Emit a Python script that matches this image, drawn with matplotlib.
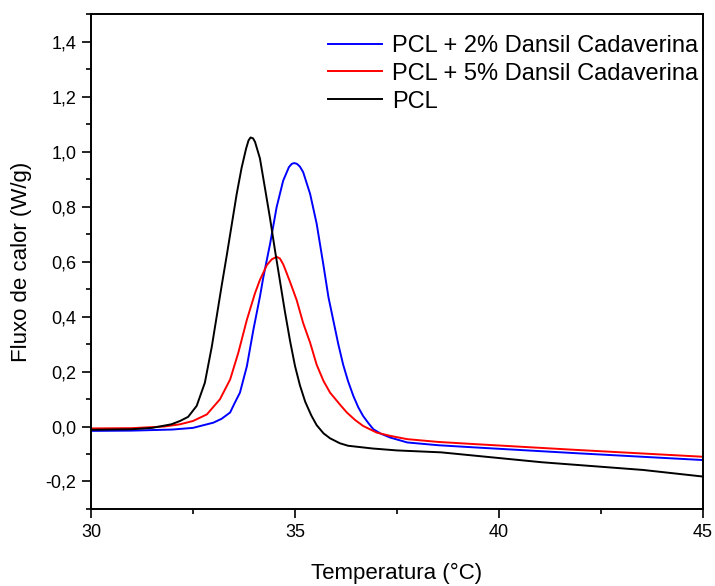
import matplotlib
matplotlib.use("Agg")
import matplotlib.pyplot as plt
from matplotlib.ticker import MultipleLocator, FixedLocator, FixedFormatter

plt.rcParams['font.family'] = ['Liberation Sans', 'DejaVu Sans']

# PCL (black)
t_pcl = [30.0, 31.0, 31.5, 31.97, 32.18, 32.38, 32.59, 32.79, 32.96, 33.08, 33.2,
         33.33, 33.45, 33.57, 33.69, 33.8, 33.86, 33.91, 33.97, 34.02, 34.14, 34.26,
         34.39, 34.51, 34.63, 34.75, 34.88, 35.0, 35.12, 35.25, 35.4, 35.53, 35.7,
         35.86, 36.1, 36.3, 36.9, 37.5, 38.58, 41.05, 43.53, 45.0]
q_pcl = [-0.012, -0.010, -0.005, 0.008, 0.020, 0.035, 0.075, 0.159, 0.29, 0.40, 0.51,
         0.625, 0.735, 0.845, 0.94, 1.01, 1.04, 1.051, 1.048, 1.035, 0.975, 0.87,
         0.755, 0.64, 0.53, 0.42, 0.31, 0.22, 0.15, 0.09, 0.04, 0.005, -0.025,
         -0.043, -0.061, -0.070, -0.080, -0.087, -0.094, -0.130, -0.158, -0.182]

# PCL + 2% Dansil Cadaverina (blue)
t_2 = [30.0, 31.0, 32.0, 32.5, 33.0, 33.2, 33.41, 33.52, 33.65, 33.82, 33.98, 34.14,
       34.22, 34.39, 34.55, 34.71, 34.85, 34.92, 34.98, 35.05, 35.12, 35.2, 35.37,
       35.53, 35.69, 35.82, 35.94, 36.06, 36.18, 36.3, 36.43, 36.55, 36.67, 36.8,
       36.92, 37.1, 37.33, 37.75, 38.5, 39.4, 41.88, 45.0]
q_2 = [-0.016, -0.015, -0.011, -0.005, 0.014, 0.028, 0.051, 0.085, 0.123, 0.219, 0.352, 0.472,
       0.54, 0.665, 0.798, 0.894, 0.943, 0.955, 0.958, 0.955, 0.945, 0.925, 0.846,
       0.738, 0.593, 0.47, 0.385, 0.30, 0.225, 0.165, 0.111, 0.07, 0.038, 0.012,
       -0.010, -0.026, -0.040, -0.058, -0.068, -0.076, -0.097, -0.122]

# PCL + 5% Dansil Cadaverina (red)
t_5 = [30.0, 31.0, 31.8, 32.18, 32.5, 32.84, 33.16, 33.41, 33.61, 33.82, 34.02,
       34.14, 34.31, 34.43, 34.55, 34.63, 34.71, 34.79, 34.88, 35.04, 35.2, 35.37,
       35.53, 35.7, 35.86, 36.1, 36.27, 36.47, 36.67, 37.0, 37.33, 37.75, 38.5,
       39.4, 41.88, 45.0]
q_5 = [-0.007, -0.006, 0.0, 0.008, 0.02, 0.044, 0.099, 0.171, 0.268, 0.388, 0.485,
       0.533, 0.587, 0.608, 0.617, 0.611, 0.59, 0.56, 0.525, 0.46, 0.376, 0.305,
       0.225, 0.165, 0.123, 0.08, 0.051, 0.024, 0.002, -0.022, -0.034, -0.046, -0.056,
       -0.064, -0.085, -0.110]

labels = ["PCL + 2% Dansil Cadaverina", "PCL + 5% Dansil Cadaverina", "PCL"]
colors = ["#0000ff", "#ff0000", "#000000"]

xticks = [30, 35, 40, 45]
yticks = [-0.2, 0.0, 0.2, 0.4, 0.6, 0.8, 1.0, 1.2, 1.4]
ytick_labels = ["-0,2", "0,0", "0,2", "0,4", "0,6", "0,8", "1,0", "1,2", "1,4"]

fig = plt.figure(figsize=(7.15, 5.86), dpi=100)
ax = fig.add_axes([0.1273, 0.1314, 0.8559, 0.8447])

ax.plot(t_2, q_2, color=colors[0], lw=1.4, label=labels[0])
ax.plot(t_5, q_5, color=colors[1], lw=1.4, label=labels[1])
ax.plot(t_pcl, q_pcl, color=colors[2], lw=1.4, label=labels[2])

ax.set_xlim(30, 45)
ax.set_ylim(-0.3, 1.5)
ax.xaxis.set_major_locator(FixedLocator(xticks))
ax.xaxis.set_minor_locator(MultipleLocator(2.5))
ax.yaxis.set_major_locator(FixedLocator(yticks))
ax.yaxis.set_major_formatter(FixedFormatter(ytick_labels))
ax.yaxis.set_minor_locator(MultipleLocator(0.1))

for s in ax.spines.values():
    s.set_linewidth(1.4)
ax.tick_params(which='major', direction='out', length=6.5, width=1.2, labelsize=13, pad=4)
ax.tick_params(which='minor', direction='out', length=3.5, width=1.2)

ax.set_xlabel("Temperatura (°C)", fontsize=16, labelpad=16)
ax.set_ylabel("Fluxo de calor (W/g)", fontsize=16, labelpad=10)

ax.legend(loc='upper left', bbox_to_anchor=(0.387, 0.958), frameon=False,
          fontsize=17, handlelength=2.29, handletextpad=0.42, labelspacing=0.25,
          borderpad=0, borderaxespad=0)

fig.savefig("out.png", dpi=100)
